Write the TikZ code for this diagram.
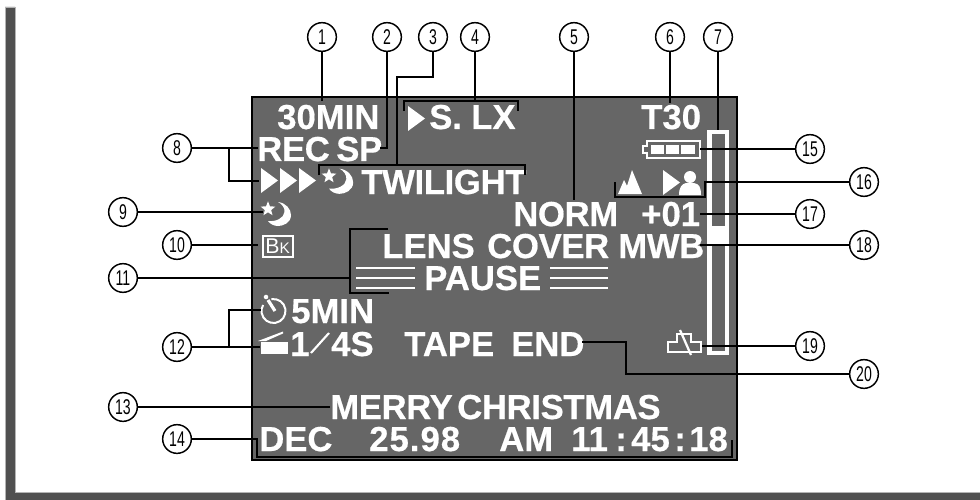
\documentclass[tikz,border=0pt]{standalone}
\usepackage{fontspec}
\setsansfont{Liberation Sans}
\newfontfamily\tagfont[FakeStretch=.66]{Liberation Sans}
\newfontfamily\lcdfont[BoldFeatures={FakeBold=.5}]{Liberation Sans}
\usetikzlibrary{calc,shapes.geometric}
\definecolor{screen}{HTML}{666666}
\definecolor{frame}{HTML}{505050}
\definecolor{frameedge}{HTML}{B4B4B4}

\begin{document}
\begin{tikzpicture}[x=.75pt,y=-.75pt,
  every node/.style={inner sep=0pt},
  lcd/.style={font=\lcdfont\bfseries\fontsize{26}{28}\selectfont,text=white,anchor=base west},
  tight/.style={lcd,font=\lcdfont\bfseries\fontsize{26}{28}\selectfont\addfontfeature{LetterSpace=-1}},
  tag/.style={circle,draw=black,fill=white,line width=1.1pt,minimum size=21.5pt,
    font=\tagfont\fontsize{16}{16}\selectfont},
  lead/.style={draw=black,line width=1.6pt,line join=miter},
  icon/.style={draw=white,line width=1.5pt},
  solid icon/.style={fill=white,draw=none},
  play/.pic={\path[solid icon] (0,-12.5) -- (17,0) -- (0,12.5) -- cycle;},
  moon/.pic={
    \node[star,star points=5,star point ratio=2.3,minimum size=11.5pt,solid icon] (-star) at (0,0) {};
    \path[solid icon] (10,-7) .. controls (18,-6) and (23,0) .. (23,6)
      .. controls (23,14) and (15,17) .. (10,17)
      .. controls (6,17) and (2,15) .. (0,12)
      .. controls (8,13) and (16,9) .. (16.5,3)
      .. controls (17,-1) and (14,-5) .. (10,-7) -- cycle;}]
\useasboundingbox (0,0) rectangle (980,499);

% -------------------------------------------------------------------------
% Page edge and screen.
% -------------------------------------------------------------------------
\path[fill=frame,draw=frameedge,line width=.5pt]
  (5,7) -- (15,7) -- (15,492) -- (981,492) -- (981,500) -- (5,500) -- cycle;
\path[fill=screen,draw=black,line width=1.6pt] (252,97) rectangle (737,460);

% -------------------------------------------------------------------------
% Screen texts, by line.
% -------------------------------------------------------------------------
\node[lcd] (tmin) at (277,129) {30MIN};
\pic (pslx) at (408,118.5) {play};
\node[lcd] (tsl) at (429,129) {S.};
\node[lcd] (tlx) at (471,129) {LX};
\node[lcd] (ttape) at (641,129) {T30};
\node[tight] (trec) at (257,161) {REC};
\node[tight] (tsp) at (336,161) {SP};
\pic (pa) at (261,180.5) {play};
\pic (pb) at (280,180.5) {play};
\pic (pc) at (299,180.5) {play};
\pic[scale=1.05] (mb) at (329,176) {moon};
\node[tight] (ttwi) at (361,194) {TWILIGHT};
\pic (ma) at (268,209) {moon};
\node[tight] (tnorm) at (513,226) {NORM};
\node[lcd] (tplus) at (641,226) {+01};
\node[lcd] (tlens) at (382,258) {LENS};
\node[tight] (tcover) at (487,258) {COVER};
\node[tight] (tmwb) at (618,258) {MWB};
\node[lcd] (tpause) at (424,290) {PAUSE};
\node[lcd] (tfive) at (291,323) {5MIN};
\node[lcd] (tone) at (290,356) {1};
\node[lcd] (tfour) at (331,356) {4S};
\node[lcd] (tend) at (404,356) {TAPE};
\node[lcd] (tend2) at (511,356) {END};
\node[tight] (tmerry) at (330,419) {MERRY};
\node[tight] (tchrist) at (457,419) {CHRISTMAS};
\node[lcd] (tdec) at (259,451) {DEC};
\node[lcd] (tday) at (369,451) {\addfontfeature{LetterSpace=3}25.98};
\node[lcd] (tam) at (499,451) {AM};
\node[lcd] (thh) at (571,451) {11};
\node[lcd] (tca) at (615,451) {:};
\node[lcd] (tmm) at (631,451) {45};
\node[lcd] (tcb) at (674,451) {:};
\node[lcd] (tss) at (689,451) {18};

% -------------------------------------------------------------------------
% Screen symbols.
% -------------------------------------------------------------------------
% Pause bars either side of the word.
\foreach \y in {268,278,288}{
  \draw[white,line width=2.2pt] (356,\y) -- (415,\y);
  \draw[white,line width=2.2pt] (550,\y) -- (608,\y);
}
% Zoom bar.
\path[fill=white] (707,130) rectangle (729,355);
\path[fill=screen] (712,134) rectangle (725,226);
\path[fill=screen] (712,246) rectangle (725,351);
% Battery.
\draw[icon] (647,141) rectangle (700,158);
\path[solid icon] (642,145) rectangle (647,154);
\path[fill=screen] (644,147) rectangle (648,152);
\path[solid icon] (651,145) rectangle (664,154);
\path[solid icon] (666,145) rectangle (679,154);
\path[solid icon] (681,145) rectangle (695,154);
% Focus marks.
\path[solid icon] (618,194) -- (624,180) -- (627,186) -- (632,170) -- (642,194) -- cycle;
\pic at (663,182.5) {play};
\path[solid icon] (690,177) circle (4.5pt);
\path[solid icon] (679,195) .. controls (679,187) and (682,184) .. (686,183)
  -- (694,183) .. controls (699,184) and (701,187) .. (701,195) -- cycle;
% Back light box.
\draw[icon] (262.5,235.5) rectangle (292.5,256.5);
\node[font=\sffamily\fontsize{16}{16}\selectfont,text=white,anchor=base west] (tbk) at (265,253)
  {B\fontsize{11.5}{12}\selectfont K};
% Timer and clapper.
\draw[white,line width=1.5pt] (273.5,311) ++(-100:12) arc[start angle=-100,end angle=210,radius=12];
\draw[white,line width=2.4pt] (275,311) -- (268,300);
\path[solid icon] (266,297) circle (1.7pt);
\path[solid icon] (261,342) rectangle (288,354);
\path[solid icon] (258,341) -- (283,331.5) -- (283,333.5) -- (266,341) -- cycle;
\draw[white,line width=1.6pt] (311,353) -- (329,333);
% Lens warning.
\draw[icon] (668,342) -- (677,342) -- (677,334) -- (691,334) -- (691,342) -- (701,342)
  -- (701,352) -- (668,352) -- cycle;
\draw[white,line width=1.7pt] (680,330) -- (691,355);

% -------------------------------------------------------------------------
% Number tags.
% -------------------------------------------------------------------------
\node[tag] (n1) at (322,37) {1};
\node[tag] (n2) at (387,37) {2};
\node[tag] (n3) at (433,37) {3};
\node[tag] (n4) at (475,37) {4};
\node[tag] (n5) at (574,37) {5};
\node[tag] (n6) at (670,37) {6};
\node[tag] (n7) at (718,37) {7};
\node[tag] (n8) at (177,148) {8};
\node[tag] (n9) at (123,212) {9};
\node[tag] (n10) at (177,245) {10};
\node[tag] (n11) at (123,278) {11};
\node[tag] (n12) at (177,347) {12};
\node[tag] (n13) at (123,407) {13};
\node[tag] (n14) at (177,439) {14};
\node[tag] (n15) at (810,149) {15};
\node[tag] (n16) at (864,182) {16};
\node[tag] (n17) at (810,214) {17};
\node[tag] (n18) at (864,245) {18};
\node[tag] (n19) at (810,346) {19};
\node[tag] (n20) at (864,374) {20};

% -------------------------------------------------------------------------
% Leaders. Free ends are named points on the screen.
% -------------------------------------------------------------------------
\coordinate (e1) at (322,101);
\coordinate (e2) at (380,148);
\coordinate (k3) at (397,77);
\coordinate (j3) at (397,165);
\coordinate (l3) at (319,165);
\coordinate (r3) at (525,165);
\coordinate (j4) at (475,101);
\coordinate (l4) at (404,101);
\coordinate (r4) at (518,101);
\coordinate (e5) at (574,200);
\coordinate (e6) at (670,103);
\coordinate (e7) at (718,130);
\coordinate (e8a) at (258,148);
\coordinate (e8b) at (259,181);
\coordinate (j8) at (229,148);
\coordinate (e9) at (263,212);
\coordinate (e10) at (258,245);
\coordinate (j11) at (350,278);
\coordinate (t11) at (388,229);
\coordinate (b11) at (389,293);
\coordinate (e12a) at (261,310);
\coordinate (e12b) at (260,347);
\coordinate (j12) at (229,347);
\coordinate (e13) at (330,407);
\coordinate (k14) at (257,439);
\coordinate (b14) at (257,457);
\coordinate (r14) at (732,457);
\coordinate (e15) at (700,149);
\coordinate (k16) at (705,182);
\coordinate (r16) at (705,197);
\coordinate (l16) at (615,197);
\coordinate (e17) at (700,214);
\coordinate (e18) at (700,245);
\coordinate (e19) at (702,346);
\coordinate (k20) at (626,374);
\coordinate (e20) at (582,342);

\draw[lead] (n1) -- (e1);
\draw[lead] (n2) |- (e2);
\draw[lead] (n3) |- (k3) -- (j3);
\draw[lead] ($(l3)+(0,10)$) -- (l3) -- (r3) -- ++(0,10);
\draw[lead] (n4) -- (j4);
\draw[lead] ($(l4)+(0,10)$) -- (l4) -- (r4) -- ++(0,10);
\draw[lead] (n5) -- (e5);
\draw[lead] (n6) -- (e6);
\draw[lead] (n7) -- (e7);
\draw[lead] (n8) -- (e8a);
\draw[lead] (j8) |- (e8b);
\draw[lead] (n9) -- (e9);
\draw[lead] (n10) -- (e10);
\draw[lead] (n11) -- (j11);
\draw[lead] (t11) -| (j11) |- (b11);
\draw[lead] (n12) -- (e12b);
\draw[lead] (j12) |- (e12a);
\draw[lead] (n13) -- (e13);
\draw[lead] (n14) -- (k14) -- (b14) -- (r14) -- ++(0,-17);
\draw[lead] (n15) -- (e15);
\draw[lead] (n16) -- (k16) -- (r16) -- (l16) -- ++(0,-15);
\draw[lead] (n17) -- (e17);
\draw[lead] (n18) -- (e18);
\draw[lead] (n19) -- (e19);
\draw[lead] (n20) -- (k20) |- (e20);
\end{tikzpicture}
\end{document}
